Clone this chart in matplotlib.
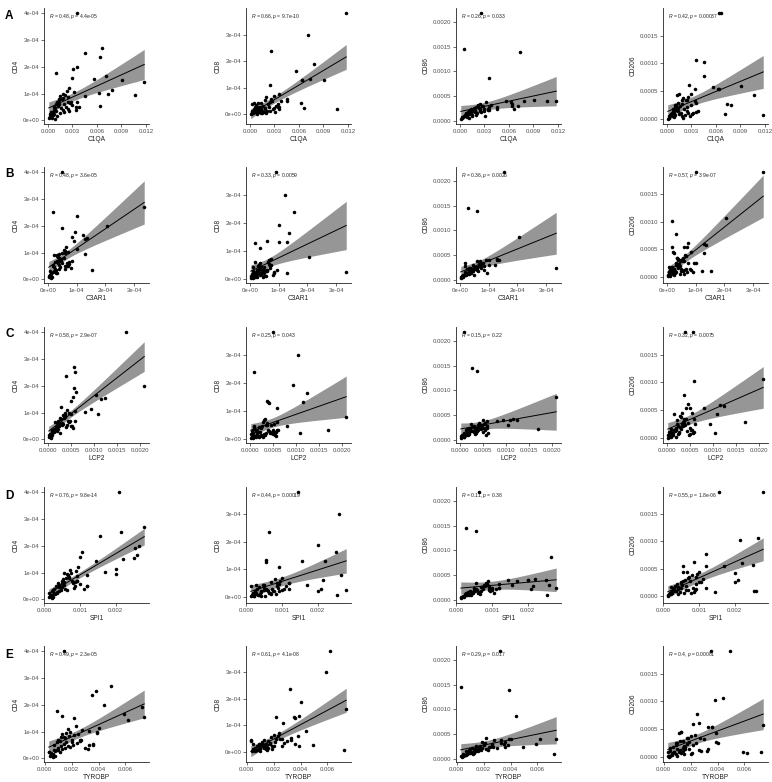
import numpy as np
import matplotlib
matplotlib.use("Agg")
import matplotlib.pyplot as plt

plt.rcParams['font.family'] = ['Liberation Sans', 'DejaVu Sans']
plt.rcParams['mathtext.fontset'] = 'custom'
plt.rcParams['mathtext.it'] = 'Liberation Sans:italic'
plt.rcParams['mathtext.rm'] = 'Liberation Sans'

# ---- per-sample expression values ----
c1qa = [6.6, 3.5, 6.4, 11.8, 7.1, 2.6, 0.5, 7.3, 3.6, 7.8, 5.6, 3.1, 4.6, 4.6, 1.0, 2.9, 9.1, 10.7, 6.2, 6.4, 2.5, 2.7, 3.4,
        0.1, 0.2, 0.3, 0.3, 0.4, 0.5, 0.6, 0.6, 0.7, 0.8, 0.8, 0.9, 1.0, 1.0, 1.1, 1.2, 1.2, 1.3, 1.4, 1.4,
        1.5, 1.6, 1.7, 1.8, 1.8, 1.9, 2.0, 2.1, 2.2, 2.3, 2.4, 2.5, 2.6, 2.8, 3.0, 3.2, 3.4, 3.6, 3.8, 0.9, 1.5, 2.0, 1.1]  # x1e-3
c3ar1 = [33.5, 5, 10, 9, 12.2, 15.5, 2.9, 5.8, 20.5, 10, 13.5, 5, 1.8, 3.2, 9.5, 8.5, 13, 12.8, 7, 1.9, 3.5, 7.4, 6,
         0.3, 0.5, 0.8, 1.0, 0.6, 1.5, 2.0, 1.2, 2.5, 3.0, 1.8, 2.2, 3.5, 2.8, 3.2, 4.0, 2.5, 4.5, 3.8, 5.0,
         2.0, 4.2, 5.5, 3.5, 6.0, 4.8, 6.5, 4.0, 7.0, 5.5, 3.0, 8.0, 6.2, 4.5, 7.5, 5.8, 3.8, 8.5, 6.8, 1.0, 1.6, 2.6, 0.9]  # x1e-5
lcp2 = [5.8, 17, 4.0, 5, 10.5, 1.0, 2.7, 3.8, 21, 9.5, 12.5, 5.8, 6.0, 3.8, 6.2, 5.5, 11.5, 11, 8, 4.2, 6, 4.5, 5,
        0.3, 0.5, 0.2, 0.8, 1.0, 0.6, 1.2, 0.4, 1.5, 0.9, 2.0, 1.8, 2.5, 1.0, 2.2, 3.0, 1.6, 2.8, 3.5, 2.0,
        3.2, 4.0, 2.6, 3.8, 1.4, 4.5, 3.0, 5.0, 2.4, 4.2, 3.6, 5.5, 2.9, 4.8, 3.4, 6.0, 2.2, 4.4, 5.2, 0.7, 1.3, 2.0, 0.8]  # x1e-4
spi1 = [28, 21, 15.5, 14.5, 26, 6.2, 2.7, 5.5, 26.5, 20, 25, 25.5, 21.5, 12, 10.5, 10, 22, 20, 17, 5.5, 9, 8.5, 12,
        1.2, 1.5, 1.8, 1.4, 2.0, 2.3, 2.5, 3.0, 2.8, 3.5, 3.2, 4.0, 3.8, 4.5, 5.0, 4.2, 5.5, 5.2, 6.0, 5.0,
        6.5, 4.8, 7.0, 6.8, 5.8, 7.5, 8.0, 6.2, 8.5, 7.2, 9.0, 8.2, 9.5, 7.8, 10.0, 8.8, 11.0, 9.2, 12.0, 2.2, 3.5, 4.2, 2.0]  # x1e-4
tyrobp = [4.9, 1.4, 3.5, 6.2, 5.9, 3.2, 0.3, 3.9, 4.4, 4.0, 7.4, 7.2, 3.8, 2.5, 0.9, 1.3, 2.2, 3.9, 3.3, 3.6, 2.7, 2.6, 3.6,
          0.4, 0.5, 0.6, 0.35, 0.7, 0.8, 0.9, 0.5, 1.0, 1.1, 0.7, 1.2, 0.9, 1.3, 1.0, 1.4, 1.1, 1.5, 1.2, 1.6,
          1.3, 1.7, 1.4, 1.8, 1.5, 1.9, 2.0, 1.6, 2.1, 1.7, 2.2, 1.9, 2.3, 2.0, 2.4, 2.8, 3.0, 2.6, 3.3, 0.6, 0.8, 1.0, 0.5]  # x1e-3
cd4 = [27, 40, 23.8, 14.2, 16.5, 3.5, 2.5, 9.7, 19.8, 11.2, 15.5, 19, 25, 9.0, 17.5, 16, 15, 9.5, 10.3, 5.5, 7, 6.5, 5,
       0.8, 1.2, 1.5, 2.2, 3.0, 1.0, 3.3, 2.0, 4.0, 2.5, 5.0, 4.5, 6.0, 3.5, 7.0, 5.5, 6.5, 7.5, 8.0, 6.2,
       9.0, 4.5, 7.8, 8.5, 3.8, 10.0, 6.0, 9.5, 5.0, 11.0, 8.8, 4.2, 12.0, 7.0, 5.8, 10.5, 4.0, 6.8, 4.8, 0.6, 2.6, 3.0, 1.8]  # x1e-5
cd8 = [2.5, 3.0, 13, 38, 30, 23.7, 4.5, 13.5, 7.8, 19, 16.3, 0.8, 6.0, 5.0, 3.0, 2.5, 13, 2.0, 4.5, 12.8, 11, 5.0, 3,
       0.3, 0.8, 1.5, 4.0, 0.5, 2.0, 1.0, 2.8, 1.5, 3.5, 0.8, 2.2, 1.2, 4.5, 2.5, 1.8, 3.0, 0.5, 2.0, 4.2,
       1.4, 3.2, 1.0, 5.5, 2.6, 2.0, 6.5, 1.5, 3.8, 2.8, 4.8, 1.2, 5.8, 2.2, 7.0, 3.2, 4.0, 2.0, 5.2, 0.3, 0.7, 0.4, 1.0]  # x1e-5
cd86 = [2.5, 2.2, 3.0, 4.0, 3.0, 21.7, 14.6, 13.9, 8.7, 4.0, 4.0, 1.1, 2.8, 2.5, 1.5, 2.0, 4.3, 4.0, 3.8, 3.5, 2.5, 3.0, 2.5,
        0.5, 0.7, 0.8, 0.6, 0.9, 1.0, 1.2, 1.1, 1.5, 1.3, 1.6, 1.0, 1.8, 1.4, 2.0, 1.7, 2.2, 1.9, 1.5, 2.4,
        1.2, 2.0, 2.6, 1.8, 2.1, 2.3, 2.8, 1.6, 3.2, 2.7, 2.0, 3.5, 1.8, 3.0, 2.4, 3.8, 2.2, 2.8, 3.3, 0.9, 1.1, 1.3, 0.7]  # x1e-4
cd206 = [19, 3.0, 19, 0.8, 1.0, 1.1, 1.0, 2.8, 10.7, 2.5, 5.7, 1.0, 10.2, 7.7, 2.5, 4.5, 6.0, 4.3, 5.5, 5.5, 3.5, 6.2, 5.5,
         0.1, 0.3, 0.5, 0.2, 0.8, 1.0, 0.6, 1.2, 1.5, 0.9, 1.8, 1.3, 2.2, 0.7, 2.6, 1.6, 4.4, 2.0, 3.0, 1.4,
         4.5, 2.4, 1.1, 3.4, 0.5, 2.8, 3.8, 1.9, 0.8, 3.5, 2.2, 1.5, 4.0, 0.6, 2.5, 1.2, 3.2, 1.3, 1.4, 0.4, 0.9, 0.3, 1.7]  # x1e-4

genes = ["C1QA", "C3AR1", "LCP2", "SPI1", "TYROBP"]
markers = ["CD4", "CD8", "CD86", "CD206"]
row_letters = ["A", "B", "C", "D", "E"]

gene_vals = {"C1QA": np.array(c1qa) * 1e-3, "C3AR1": np.array(c3ar1) * 1e-5,
             "LCP2": np.array(lcp2) * 1e-4, "SPI1": np.array(spi1) * 1e-4,
             "TYROBP": np.array(tyrobp) * 1e-3}
marker_vals = {"CD4": np.array(cd4) * 1e-5, "CD8": np.array(cd8) * 1e-5,
               "CD86": np.array(cd86) * 1e-4, "CD206": np.array(cd206) * 1e-4}

gene_ticks = {
    "C1QA": ([0, 0.003, 0.006, 0.009, 0.012], ["0.000", "0.003", "0.006", "0.009", "0.012"]),
    "C3AR1": ([0, 1e-4, 2e-4, 3e-4], ["0e+00", "1e-04", "2e-04", "3e-04"]),
    "LCP2": ([0, 0.0005, 0.001, 0.0015, 0.002], ["0.0000", "0.0005", "0.0010", "0.0015", "0.0020"]),
    "SPI1": ([0, 0.001, 0.002], ["0.000", "0.001", "0.002"]),
    "TYROBP": ([0, 0.002, 0.004, 0.006], ["0.000", "0.002", "0.004", "0.006"]),
}
marker_ticks = {
    "CD4": ([0, 1e-4, 2e-4, 3e-4, 4e-4], ["0e+00", "1e-04", "2e-04", "3e-04", "4e-04"]),
    "CD8": ([0, 1e-4, 2e-4, 3e-4, 4e-4], ["0e+00", "1e-04", "2e-04", "3e-04", "4e-04"]),
    "CD86": ([0, 0.0005, 0.001, 0.0015, 0.002], ["0.0000", "0.0005", "0.0010", "0.0015", "0.0020"]),
    "CD206": ([0, 0.0005, 0.001, 0.0015], ["0.0000", "0.0005", "0.0010", "0.0015"]),
}

stats = [
    [("0.48", "4.4e-05"), ("0.66", "9.7e-10"), ("0.26", "0.033"), ("0.42", "0.00037")],
    [("0.48", "3.6e-05"), ("0.33", "0.0059"), ("0.36", "0.0026"), ("0.57", "3.9e-07")],
    [("0.58", "2.9e-07"), ("0.25", "0.043"), ("0.15", "0.22"), ("0.32", "0.0075")],
    [("0.76", "9.8e-14"), ("0.44", "0.00019"), ("0.11", "0.38"), ("0.55", "1.8e-06")],
    [("0.49", "2.3e-05"), ("0.61", "4.1e-08"), ("0.29", "0.017"), ("0.4", "0.00081")],
]

W, H = 772, 782
fig = plt.figure(figsize=(W / 100, H / 100), dpi=100)
lefts = [44, 246, 456, 663]
tops = [8, 167, 327, 487, 646]
aw, ah = 105, 116
letter_y = [10, 168, 328, 490, 649]
T975 = 1.998

for r, g in enumerate(genes):
    x = gene_vals[g]
    for c, m in enumerate(markers):
        y = marker_vals[m]
        ax = fig.add_axes([lefts[c] / W, 1 - (tops[r] + ah) / H, aw / W, ah / H])
        n = len(x)
        xm, ym = x.mean(), y.mean()
        sxx = ((x - xm) ** 2).sum()
        b = ((x - xm) * (y - ym)).sum() / sxx
        a = ym - b * xm
        resid = y - (a + b * x)
        s = np.sqrt((resid ** 2).sum() / (n - 2))
        xs = np.linspace(x.min(), x.max(), 100)
        fit = a + b * xs
        se = s * np.sqrt(1 / n + (xs - xm) ** 2 / sxx)
        lo, hi = fit - T975 * se, fit + T975 * se
        ax.fill_between(xs, lo, hi, color='#969696', lw=0, zorder=1)
        ax.scatter(x, y, s=6.5, color='black', lw=0, zorder=2)
        ax.plot(xs, fit, color='black', lw=0.7, zorder=3)
        xmin, xmax = x.min(), x.max()
        ymin, ymax = min(y.min(), lo.min()), max(y.max(), hi.max())
        dx, dy = xmax - xmin, ymax - ymin
        tx, tl = gene_ticks[g]
        ty, tyl = marker_ticks[m]
        ax.set_xticks(tx)
        ax.set_xticklabels(tl)
        ax.set_yticks(ty)
        ax.set_yticklabels(tyl)
        ax.set_xlim(xmin - 0.05 * dx, xmax + 0.05 * dx)
        ax.set_ylim(ymin - 0.05 * dy, ymax + 0.05 * dy)
        for sp in ['top', 'right']:
            ax.spines[sp].set_visible(False)
        for sp in ['left', 'bottom']:
            ax.spines[sp].set_color('#222222')
            ax.spines[sp].set_linewidth(0.6)
        ax.tick_params(length=2, width=0.5, color='#333333', labelsize=4.3,
                       labelcolor='#4d4d4d', pad=1.5)
        ax.set_xlabel(g, fontsize=4.8, labelpad=1.5, color='#222222')
        ax.set_ylabel(m, fontsize=4.8, labelpad=2, color='#222222')
        R, p = stats[r][c]
        ax.text(xmin, y.max() - 0.035 * dy, r'$\it{R}$ = ' + R + r', $\it{p}$ = ' + p,
                fontsize=3.6, ha='left', va='center', color='#222222', zorder=4)
    fig.text(5 / W, 1 - letter_y[r] / H, row_letters[r], fontsize=8.5,
             fontweight='bold', ha='left', va='top')

fig.savefig("out.png", dpi=100)
